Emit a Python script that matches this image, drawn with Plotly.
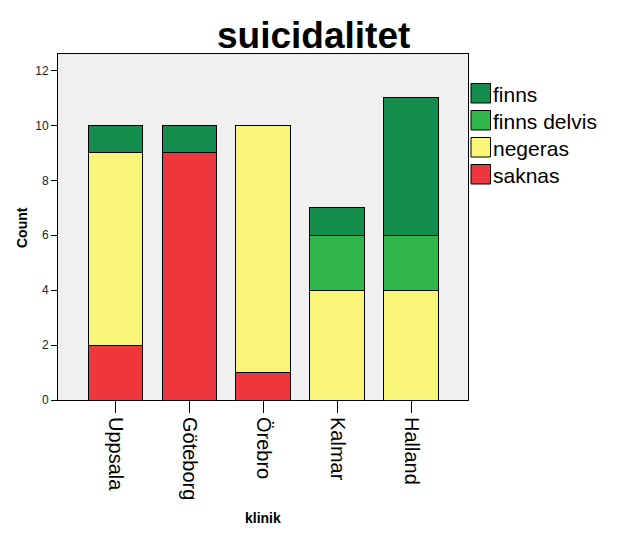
import plotly.graph_objects as go

categories = ["Uppsala", "Göteborg", "Örebro", "Kalmar", "Halland"]
saknas = [2, 9, 1, 0, 0]
negeras = [7, 0, 9, 4, 4]
finns_delvis = [0, 0, 0, 2, 2]
finns = [1, 1, 0, 1, 5]

series_names = ["saknas", "negeras", "finns delvis", "finns"]
series_values = [saknas, negeras, finns_delvis, finns]
series_colors = ["#EF363C", "#F8F579", "#32B54B", "#148C4B"]

y_ticks = [0, 2, 4, 6, 8, 10, 12]

FONT = "Liberation Sans, Arial, sans-serif"

fig = go.Figure()
for name, vals, col in zip(series_names, series_values, series_colors):
    fig.add_trace(go.Bar(
        x=categories, y=vals, name=name, showlegend=False,
        marker=dict(color=col, line=dict(color="black", width=1)),
    ))

L, R, T, B = 58, 157, 54, 140
W, H = 625, 540
pw, ph = W - L - R, H - T - B

def px(xp):
    return (xp - L) / pw

def py(yp):
    return (H - B - yp) / ph

shapes = []
annotations = []
# manual legend (top item = finns)
legend_items = list(zip(series_names, series_colors))[::-1]
for i, (name, col) in enumerate(legend_items):
    top = 83.5 + i * 27
    shapes.append(dict(type="rect", xref="paper", yref="paper",
                       x0=px(471), x1=px(490.5), y0=py(top + 19.5), y1=py(top),
                       fillcolor=col, line=dict(color="black", width=1)))
    annotations.append(dict(text=name, xref="paper", yref="paper",
                            x=px(491), y=py(top + 11), xanchor="left", yanchor="middle",
                            showarrow=False, font=dict(family=FONT, size=21, color="black")))

annotations.append(dict(text="<b>suicidalitet</b>", xref="paper", yref="paper",
                        x=px(313.5), y=py(58), xanchor="center", yanchor="bottom",
                        showarrow=False, font=dict(family=FONT, size=37, color="black")))
annotations.append(dict(text="<b>Count</b>", xref="paper", yref="paper",
                        x=px(22), y=py(228), xanchor="center", yanchor="middle", textangle=-90,
                        showarrow=False, font=dict(family=FONT, size=14, color="black")))
annotations.append(dict(text="<b>klinik</b>", xref="paper", yref="paper",
                        x=px(263), y=py(518), xanchor="center", yanchor="middle",
                        showarrow=False, font=dict(family=FONT, size=14, color="black")))

fig.update_layout(
    width=W, height=H,
    margin=dict(l=L, r=R, t=T, b=B, autoexpand=False),
    barmode="stack", bargap=0.257,
    paper_bgcolor="white", plot_bgcolor="#F0F0F0",
    showlegend=False,
    shapes=shapes, annotations=annotations,
    font=dict(family=FONT, color="black"),
)
fig.update_xaxes(
    type="category", range=[-0.777, 4.764],
    showline=True, mirror=True, linecolor="black", linewidth=1,
    ticks="outside", ticklen=12, tickcolor="black", tickangle=90,
    tickfont=dict(family=FONT, size=20, color="black"),
    showgrid=False, zeroline=False,
)
fig.update_yaxes(
    range=[0, 12.6], tickvals=y_ticks,
    showline=True, mirror=True, linecolor="black", linewidth=1,
    ticks="outside", ticklen=6, tickcolor="black",
    tickfont=dict(family=FONT, size=12, color="#222222"),
    showgrid=False, zeroline=False,
)

fig.write_html("out.html", config={"displayModeBar": False},
               post_script="document.body.style.margin='0';document.body.style.padding='0';")
